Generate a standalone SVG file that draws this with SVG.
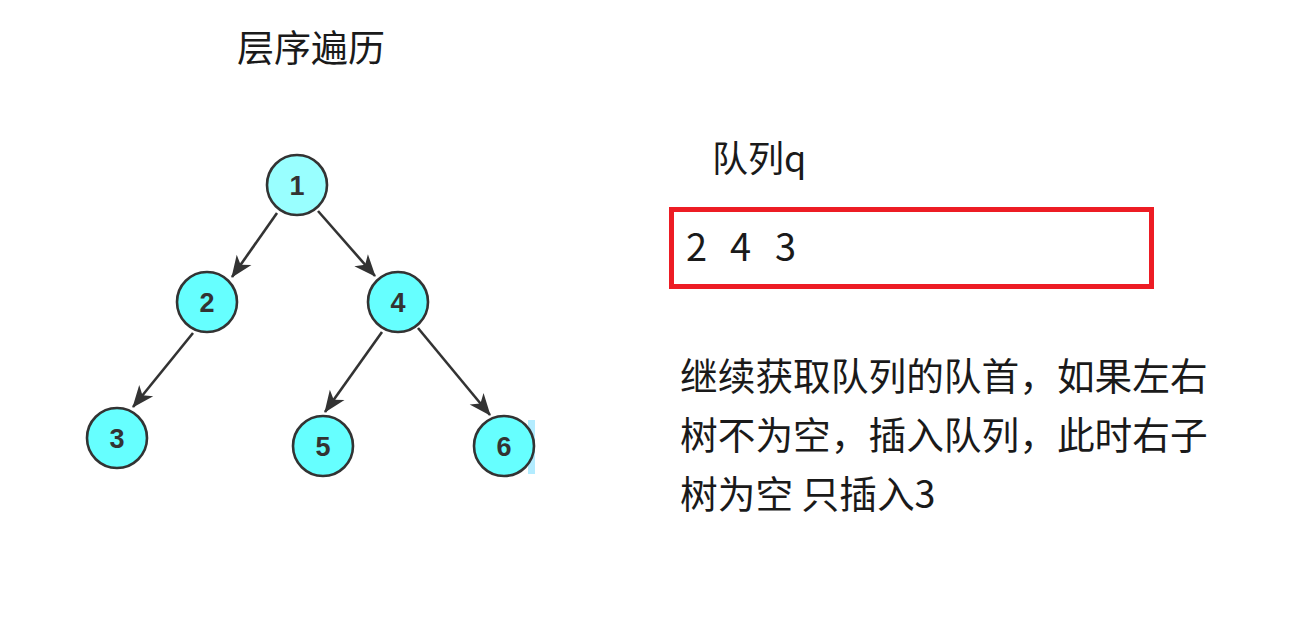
<svg xmlns="http://www.w3.org/2000/svg" width="1289" height="619" viewBox="0 0 1289 619">
<style>
.node circle{fill:#66FFFF;stroke:#333333;stroke-width:2.6}
.node text{font-family:"Liberation Sans","Noto Sans",sans-serif;font-weight:bold;font-size:27px;fill:#333333;text-anchor:middle}
.edge{stroke:#333333;stroke-width:2.6;fill:none}
.cjk{font-family:"Noto Sans CJK SC",sans-serif;fill:#1a1a1a}
</style>
<defs>
<marker id="arr" viewBox="0 0 22 18" refX="21" refY="9" markerWidth="22" markerHeight="18" markerUnits="userSpaceOnUse" orient="auto" overflow="visible">
<path d="M0,0 L22,9 L0,18 L6,9 z" fill="#333333"/>
</marker>
</defs>
<rect width="1289" height="619" fill="#ffffff"/>
<text class="cjk" x="237" y="62" font-size="37">层序遍历</text>
<g id="connectors">
<line class="edge" x1="277" y1="213" x2="232" y2="277" marker-end="url(#arr)"/>
<line class="edge" x1="318" y1="211" x2="375" y2="276" marker-end="url(#arr)"/>
<line class="edge" x1="193" y1="333" x2="133" y2="407" marker-end="url(#arr)"/>
<line class="edge" x1="382" y1="332" x2="325" y2="412" marker-end="url(#arr)"/>
<line class="edge" x1="418" y1="328" x2="490" y2="415" marker-end="url(#arr)"/>
</g>
<rect x="528" y="420" width="7" height="54" fill="#b3ecff"/>
<g id="node1" class="node"><circle cx="297" cy="185" r="30" style="fill:#99FFFF"/><text x="297" y="195">1</text></g>
<g id="node2" class="node"><circle cx="207" cy="302" r="30"/><text x="207" y="312">2</text></g>
<g id="node4" class="node"><circle cx="398" cy="302" r="30"/><text x="398" y="312">4</text></g>
<g id="node3" class="node"><circle cx="117" cy="438" r="30"/><text x="117" y="448">3</text></g>
<g id="node5" class="node"><circle cx="323" cy="446" r="30"/><text x="323" y="456">5</text></g>
<g id="node6" class="node"><circle cx="504" cy="446" r="30"/><text x="504" y="456">6</text></g>
<text class="cjk" x="712" y="172" font-size="36">队列q</text>
<g id="queue">
<rect x="671.5" y="209.5" width="480" height="77" fill="none" stroke="#ED1C24" stroke-width="5"/>
<text class="cjk" font-size="38" y="261"><tspan x="686">2</tspan><tspan x="730">4</tspan><tspan x="775">3</tspan></text>
</g>
<g id="desc" class="cjk" font-size="37.7">
<text x="680" y="390">继续获取队列的队首，如果左右</text>
<text x="680" y="449">树不为空，插入队列，此时右子</text>
<text x="680" y="508">树为空 只插入3</text>
</g>
</svg>
